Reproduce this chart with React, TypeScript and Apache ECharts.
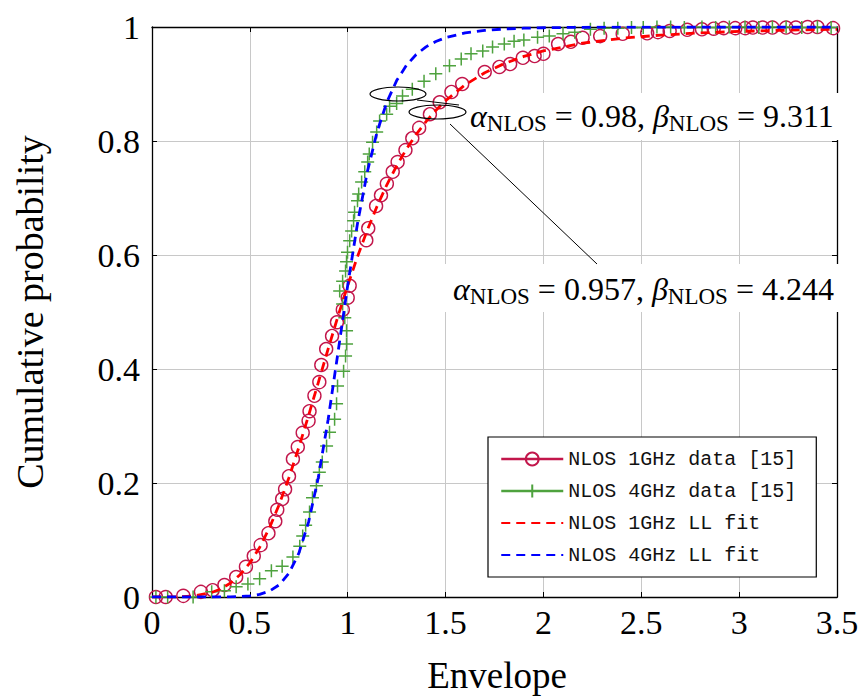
import React, { useEffect, useRef } from 'react';
import * as echarts from 'echarts';

// ---- data ----
const data1GHzX = [0.02, 0.07, 0.16, 0.25, 0.31, 0.37, 0.43, 0.48, 0.52, 0.555, 0.595, 0.63, 0.64, 0.665, 0.68, 0.7, 0.72, 0.745, 0.77, 0.8, 0.805, 0.83, 0.855, 0.865, 0.89, 0.92, 0.945, 0.975, 1.0, 1.01, 1.095, 1.105, 1.145, 1.17, 1.2, 1.23, 1.255, 1.295, 1.33, 1.365, 1.42, 1.47, 1.53, 1.585, 1.7, 1.775, 1.83, 1.895, 1.955, 2.0, 2.075, 2.14, 2.2, 2.29, 2.405, 2.53, 2.585, 2.645, 2.735, 2.81, 2.87, 2.92, 2.98, 3.03, 3.07, 3.12, 3.17, 3.24, 3.29, 3.35, 3.4, 3.48];
const data1GHzY = [0, 0, 0.002, 0.009, 0.012, 0.021, 0.035, 0.053, 0.072, 0.091, 0.112, 0.133, 0.153, 0.172, 0.189, 0.212, 0.242, 0.263, 0.288, 0.309, 0.326, 0.353, 0.377, 0.407, 0.435, 0.458, 0.482, 0.504, 0.525, 0.546, 0.626, 0.647, 0.686, 0.705, 0.725, 0.746, 0.763, 0.784, 0.805, 0.823, 0.847, 0.868, 0.886, 0.9, 0.921, 0.93, 0.935, 0.946, 0.949, 0.953, 0.97, 0.974, 0.981, 0.984, 0.988, 0.989, 0.991, 0.993, 0.995, 0.996, 0.997, 0.998, 0.998, 0.998, 0.999, 0.999, 0.999, 0.999, 0.999, 1.0, 1.0, 0.998];

const data4GHzX = [0.02, 0.08, 0.21, 0.305, 0.37, 0.43, 0.49, 0.55, 0.61, 0.665, 0.72, 0.755, 0.77, 0.785, 0.805, 0.82, 0.84, 0.855, 0.87, 0.892, 0.907, 0.933, 0.943, 0.948, 0.979, 0.989, 0.994, 0.994, 0.985, 0.974, 0.959, 0.974, 0.989, 0.994, 0.999, 1.01, 1.02, 1.03, 1.035, 1.05, 1.056, 1.071, 1.087, 1.102, 1.11, 1.127, 1.148, 1.163, 1.199, 1.214, 1.25, 1.28, 1.33, 1.39, 1.45, 1.52, 1.58, 1.63, 1.69, 1.74, 1.8, 1.85, 1.9, 1.97, 2.03, 2.1, 2.16, 2.24, 2.31, 2.38, 2.45, 2.51, 2.58, 2.65, 2.72, 2.81, 2.88, 2.95, 3.03, 3.1, 3.17, 3.24, 3.32, 3.4, 3.47];
const data4GHzY = [0, 0, 0, 0.009, 0.011, 0.018, 0.023, 0.032, 0.046, 0.054, 0.07, 0.089, 0.107, 0.126, 0.149, 0.174, 0.195, 0.219, 0.237, 0.265, 0.289, 0.312, 0.339, 0.37, 0.396, 0.423, 0.444, 0.467, 0.49, 0.514, 0.537, 0.554, 0.572, 0.588, 0.605, 0.625, 0.642, 0.66, 0.675, 0.695, 0.707, 0.728, 0.746, 0.763, 0.777, 0.798, 0.816, 0.835, 0.847, 0.861, 0.866, 0.879, 0.891, 0.905, 0.918, 0.932, 0.944, 0.953, 0.958, 0.965, 0.97, 0.975, 0.977, 0.982, 0.984, 0.988, 0.991, 0.996, 0.998, 0.998, 0.999, 0.999, 1.0, 1.0, 0.999, 1.0, 0.999, 1.0, 1.0, 0.999, 1.0, 1.0, 0.999, 1.0, 0.999];

const fitX = [0, 0.1, 0.2, 0.3, 0.35, 0.4, 0.45, 0.5, 0.55, 0.6, 0.65, 0.7, 0.75, 0.8, 0.85, 0.9, 0.95, 1.0, 1.05, 1.1, 1.15, 1.2, 1.25, 1.3, 1.35, 1.4, 1.45, 1.5, 1.6, 1.7, 1.8, 1.9, 2.0, 2.2, 2.4, 2.6, 2.8, 3.0, 3.2, 3.4, 3.5];
const fit1GHzY = [0, 0.0001, 0.0013, 0.0072, 0.0138, 0.0241, 0.0391, 0.0598, 0.087, 0.1212, 0.1623, 0.2096, 0.2623, 0.3185, 0.3767, 0.4352, 0.4922, 0.5465, 0.5972, 0.6436, 0.6856, 0.7232, 0.7565, 0.7858, 0.8116, 0.8341, 0.8537, 0.8707, 0.8986, 0.9197, 0.9359, 0.9484, 0.958, 0.9716, 0.9802, 0.9858, 0.9896, 0.9922, 0.9941, 0.9954, 0.9959];
const fit4GHzY = [0, 0, 0, 0, 0.0001, 0.0002, 0.0007, 0.0019, 0.0046, 0.0103, 0.0214, 0.0418, 0.0765, 0.1313, 0.21, 0.3114, 0.4282, 0.5469, 0.6553, 0.7456, 0.816, 0.8682, 0.906, 0.9328, 0.9518, 0.9651, 0.9746, 0.9814, 0.9897, 0.9941, 0.9965, 0.9979, 0.9987, 0.9995, 0.9998, 0.9999, 1, 1, 1, 1, 1];

const seriesNames = ['NLOS 1GHz data [15]', 'NLOS 4GHz data [15]', 'NLOS 1GHz LL fit', 'NLOS 4GHz LL fit'];
const fit1Params = ['0.957', '4.244'];
const fit4Params = ['0.98', '9.311'];
const xTitle = 'Envelope';
const yTitle = 'Cumulative probability';

const zip = (xs: number[], ys: number[]) => xs.map((x, i) => [x, ys[i]]);

const CRIMSON = '#c2164b';
const GREEN = '#4ea23e';
const SERIF = 'Liberation Serif';
const MONO = 'Liberation Mono';
const PLUS = 'path://M5,0L5,10M0,5L10,5';

export default function App() {
  const ref = useRef<HTMLDivElement>(null);
  useEffect(() => {
    const chart = echarts.init(ref.current!, null, { renderer: 'svg' });
    const axisCommon = {
      type: 'value' as const,
      axisLine: { show: true, onZero: false, lineStyle: { color: '#000', width: 1.3 } },
      axisTick: { show: true, inside: true, length: 5, lineStyle: { color: '#000', width: 1 } },
    };
    const rich = {
      g: { fontFamily: SERIF, fontStyle: 'italic', fontSize: 32, lineHeight: 38, verticalAlign: 'middle', fill: '#000' },
      s: { fontFamily: SERIF, fontStyle: 'normal', fontSize: 23, lineHeight: 23, verticalAlign: 'bottom', fill: '#000' },
      n: { fontFamily: SERIF, fontStyle: 'normal', fontSize: 32, lineHeight: 38, verticalAlign: 'middle', fill: '#000' },
    };
    const label = (p: string[]) => `{g|α}{s|NLOS}{n| = ${p[0]}, }{g|β}{s|NLOS}{n| = ${p[1]}}`;
    const annotStyle = (p: string[]) => ({
      text: label(p), rich, fontFamily: SERIF, fontSize: 32,
      textVerticalAlign: 'middle', textAlign: 'left', fill: '#000',
    });

    const option: any = {
      animation: false,
      backgroundColor: '#fff',
      grid: { left: 152, right: 29, top: 27, bottom: 101, containLabel: false },
      xAxis: [
        {
          ...axisCommon, min: 0, max: 3.5, interval: 0.5, position: 'bottom',
          axisLabel: { fontFamily: SERIF, fontSize: 34, color: '#000', margin: 8 },
          splitLine: { show: true, lineStyle: { color: '#c8c8c8', width: 1 } },
        },
        {
          ...axisCommon, min: 0, max: 3.5, interval: 0.5, position: 'top',
          axisLabel: { show: false }, splitLine: { show: false },
        },
      ],
      yAxis: [
        {
          ...axisCommon, min: 0, max: 1, interval: 0.2, position: 'left',
          axisLabel: { fontFamily: SERIF, fontSize: 34, color: '#000', margin: 12 },
          splitLine: { show: true, lineStyle: { color: '#c8c8c8', width: 1 } },
        },
        {
          ...axisCommon, min: 0, max: 1, interval: 0.2, position: 'right',
          axisLabel: { show: false }, splitLine: { show: false },
        },
      ],
      legend: {
        orient: 'vertical', left: 488, top: 437,
        padding: [12, 20, 12, 12],
        itemWidth: 62, itemHeight: 16, itemGap: 12,
        backgroundColor: '#fff', borderColor: '#000', borderWidth: 1.2, borderRadius: 0,
        textStyle: { fontFamily: MONO, fontSize: 20, color: '#111', lineHeight: 20 },
        data: [
          { name: seriesNames[0], lineStyle: { opacity: 1, width: 2.5, color: CRIMSON } },
          { name: seriesNames[1], lineStyle: { opacity: 1, width: 2.5, color: GREEN } },
          { name: seriesNames[2], itemStyle: { opacity: 0 } },
          { name: seriesNames[3], itemStyle: { opacity: 0 } },
        ],
      },
      series: [
        {
          name: seriesNames[0], type: 'line', data: zip(data1GHzX, data1GHzY),
          symbol: 'circle', symbolSize: 13, showSymbol: true,
          itemStyle: { color: 'rgba(0,0,0,0)', borderColor: CRIMSON, borderWidth: 1.4 },
          lineStyle: { opacity: 0, color: CRIMSON }, emphasis: { disabled: true }, z: 2,
        },
        {
          name: seriesNames[1], type: 'line', data: zip(data4GHzX, data4GHzY),
          symbol: PLUS, symbolSize: 13, showSymbol: true,
          itemStyle: { color: GREEN, borderColor: GREEN, borderWidth: 1.5 },
          lineStyle: { opacity: 0, color: GREEN }, emphasis: { disabled: true }, z: 3,
        },
        {
          name: seriesNames[2], type: 'line', data: zip(fitX, fit1GHzY),
          symbol: 'none', itemStyle: { color: '#ff0000' },
          lineStyle: { color: '#ff0000', width: 2.8, type: [9, 6] }, emphasis: { disabled: true }, z: 4,
        },
        {
          name: seriesNames[3], type: 'line', data: zip(fitX, fit4GHzY),
          symbol: 'none', itemStyle: { color: '#0000ff' },
          lineStyle: { color: '#0000ff', width: 2.8, type: [9, 6] }, emphasis: { disabled: true }, z: 5,
        },
      ],
      graphic: [
        { type: 'rect', shape: { x: 466, y: 93, width: 380, height: 47 }, style: { fill: '#fff' }, z: 100 },
        { type: 'text', x: 470, y: 116, z: 101, style: annotStyle(fit4Params) },
        { type: 'rect', shape: { x: 445, y: 264, width: 401, height: 48 }, style: { fill: '#fff' }, z: 100 },
        { type: 'text', x: 453, y: 289, z: 101, style: annotStyle(fit1Params) },
        { type: 'ellipse', shape: { cx: 398, cy: 94, rx: 28, ry: 7 }, style: { fill: 'none', stroke: '#000', lineWidth: 1.2 }, z: 102 },
        { type: 'ellipse', shape: { cx: 437.5, cy: 112, rx: 28.5, ry: 7 }, style: { fill: 'none', stroke: '#000', lineWidth: 1.2 }, z: 102 },
        { type: 'line', shape: { x1: 417, y1: 100, x2: 459, y2: 105 }, style: { stroke: '#000', lineWidth: 1 }, z: 102 },
        { type: 'line', shape: { x1: 450, y1: 124, x2: 597, y2: 264 }, style: { stroke: '#000', lineWidth: 1 }, z: 102 },
        { type: 'text', x: 497, y: 675, style: { text: xTitle, fontFamily: SERIF, fontSize: 37, fill: '#000', textAlign: 'center', textVerticalAlign: 'middle' } },
        { type: 'text', x: 30, y: 312, rotation: Math.PI / 2, style: { text: yTitle, fontFamily: SERIF, fontSize: 38, fill: '#000', textAlign: 'center', textVerticalAlign: 'middle' } },
      ],
    };
    chart.setOption(option);
    return () => chart.dispose();
  }, []);
  return <div ref={ref} style={{ position: 'fixed', left: 0, top: 0, width: 866, height: 698, background: '#fff' }} />;
}
